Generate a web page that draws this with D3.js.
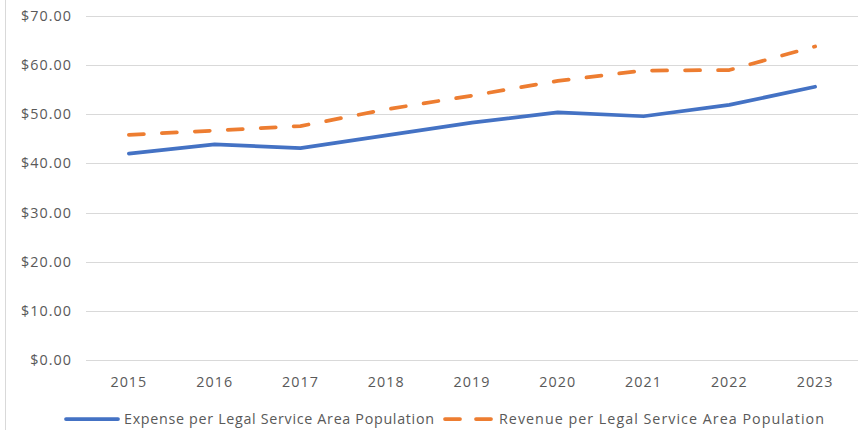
<!DOCTYPE html>
<html>
<head>
<meta charset="utf-8">
<script src="https://cdn.jsdelivr.net/npm/d3@7"></script>
<style>
  body { margin: 0; background: #fff; }
  svg { display: block; font-family: "Open Sans", sans-serif; }
  .lbl { font-size: 14.3px; letter-spacing: 1.05px; fill: #595959; }
</style>
</head>
<body>
<svg></svg>
<script>
const width = 858
const height = 430

const years = ["2015", "2016", "2017", "2018", "2019", "2020", "2021", "2022", "2023"]
const expense = [42.0, 43.9, 43.1, 45.7, 48.3, 50.4, 49.6, 51.9, 55.6]
const revenue = [45.8, 46.7, 47.6, 51.0, 53.8, 56.8, 58.9, 59.0, 63.8]
const yTicks = [0, 10, 20, 30, 40, 50, 60, 70]
const seriesNames = ["Expense per Legal Service Area Population", "Revenue per Legal Service Area Population"]

const margin = { top: 16, right: 0, bottom: 70, left: 86 }

const svg = d3.select("svg")
  .attr("width", width)
  .attr("height", height)

// chart frame edge on the left
svg.append("line")
  .attr("x1", 5.5).attr("x2", 5.5)
  .attr("y1", 0).attr("y2", height)
  .attr("stroke", "#d9d9d9")

const x = d3.scaleBand()
  .domain(years)
  .range([margin.left, width - margin.right])

const y = d3.scaleLinear()
  .domain([0, 70])
  .range([360, margin.top])

// gridlines
svg.append("g")
  .selectAll("line")
  .data(yTicks)
  .enter()
  .append("line")
  .attr("x1", margin.left)
  .attr("x2", width)
  .attr("y1", d => Math.round(y(d)) + 0.5)
  .attr("y2", d => Math.round(y(d)) + 0.5)
  .attr("stroke", "#d9d9d9")
  .attr("stroke-width", 1)

// y labels
svg.append("g")
  .selectAll("text")
  .data(yTicks)
  .enter()
  .append("text")
  .attr("class", "lbl")
  .attr("x", 72)
  .attr("y", d => y(d) + 5)
  .attr("text-anchor", "end")
  .text(d => "$" + d.toFixed(2))

// x labels
svg.append("g")
  .selectAll("text")
  .data(years)
  .enter()
  .append("text")
  .attr("class", "lbl")
  .attr("x", d => x(d) + x.bandwidth() / 2)
  .attr("y", 387)
  .attr("text-anchor", "middle")
  .text(d => d)

const line = d3.line()
  .x((d, i) => x(years[i]) + x.bandwidth() / 2)
  .y(d => y(d))

svg.append("path")
  .datum(expense)
  .attr("fill", "none")
  .attr("stroke", "#4472c4")
  .attr("stroke-width", 3.75)
  .attr("stroke-linejoin", "round")
  .attr("stroke-linecap", "round")
  .attr("d", line)

svg.append("path")
  .datum(revenue)
  .attr("fill", "none")
  .attr("stroke", "#ed7d31")
  .attr("stroke-width", 3.75)
  .attr("stroke-linejoin", "round")
  .attr("stroke-linecap", "round")
  .attr("stroke-dasharray", "15,18")
  .attr("d", line)

// legend
const legend = svg.append("g")
legend.append("line")
  .attr("x1", 66).attr("x2", 118)
  .attr("y1", 419).attr("y2", 419)
  .attr("stroke", "#4472c4")
  .attr("stroke-width", 3.75)
  .attr("stroke-linecap", "round")
legend.append("text")
  .attr("class", "lbl")
  .attr("x", 124).attr("y", 424)
  .attr("textLength", 311)
  .attr("lengthAdjust", "spacing")
  .text(seriesNames[0])

legend.append("line")
  .attr("x1", 445).attr("x2", 492)
  .attr("y1", 419).attr("y2", 419)
  .attr("stroke", "#ed7d31")
  .attr("stroke-width", 3.75)
  .attr("stroke-linecap", "round")
  .attr("stroke-dasharray", "15,16")
legend.append("text")
  .attr("class", "lbl")
  .attr("x", 499).attr("y", 424)
  .attr("textLength", 326)
  .attr("lengthAdjust", "spacing")
  .text(seriesNames[1])
</script>
</body>
</html>
